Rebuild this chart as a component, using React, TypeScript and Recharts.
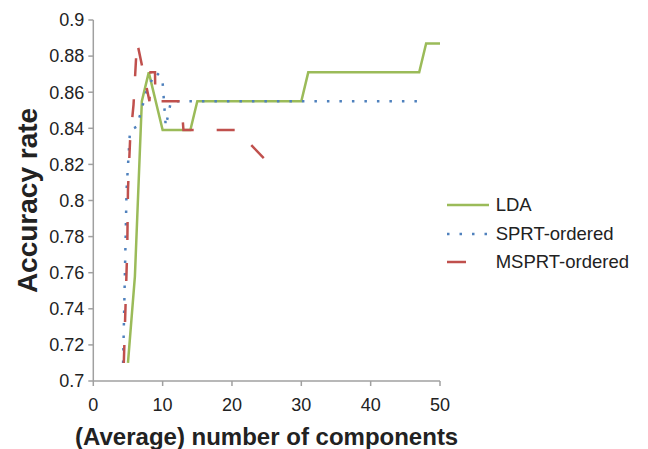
import { LineChart, Line, XAxis, YAxis } from "recharts";

// LDA
const ldaX = [5, 6, 7, 8, 10, 14, 15, 30, 31, 47, 48, 50];
const ldaY = [0.71, 0.758, 0.855, 0.871, 0.839, 0.839, 0.855, 0.855, 0.871, 0.871, 0.887, 0.887];

// SPRT-ordered
const sprtX = [4.3, 4.8, 5.3, 6.3, 7.7, 9.0, 9.95, 10.45, 11.2, 47];
const sprtY = [0.71, 0.806, 0.839, 0.841, 0.861, 0.871, 0.868, 0.841, 0.855, 0.855];

// MSPRT-ordered
const msprtX = [4.4, 4.9, 5.0, 5.3, 5.8, 6.3, 8.1, 8.25, 8.9, 8.95, 12.7, 13.0, 20.7, 24.7];
const msprtY = [0.71, 0.774, 0.806, 0.833, 0.853, 0.888, 0.855, 0.871, 0.871, 0.855, 0.855, 0.839, 0.839, 0.823];

const xTicks = [0, 10, 20, 30, 40, 50];
const yTicks = [0.7, 0.72, 0.74, 0.76, 0.78, 0.8, 0.82, 0.84, 0.86, 0.88, 0.9];

const toPoints = (xs: number[], ys: number[]) => xs.map((x, i) => ({ x, y: ys[i] }));

const lda = toPoints(ldaX, ldaY);
const sprt = toPoints(sprtX, sprtY);
const msprt = toPoints(msprtX, msprtY);

const legendItems = [
    { name: "LDA", color: "#9bbb59", dash: undefined, len: 42 },
    { name: "SPRT-ordered", color: "#4f81bd", dash: "2.5 10", len: 42 },
    { name: "MSPRT-ordered", color: "#c0504d", dash: undefined, len: 19 },
];

const axisColor = "#a0a0a0";
const textColor = "#222";

function LegendBox() {
    return <div style={{ position: "absolute", left: 438.7, top: 182.75, fontSize: 18.5, color: textColor }}>
        {legendItems.map((it) => (
            <div key={it.name} style={{ display: "flex", alignItems: "center", height: 28.5 }}>
                <svg width={42} height={6} style={{ marginRight: 7 }}>
                    <line x1={0} y1={3} x2={it.len} y2={3} stroke={it.color} strokeWidth={2.5} strokeDasharray={it.dash} />
                </svg>
                <span>{it.name}</span>
            </div>
        ))}
    </div>
}

export default function App() {
    return <div style={{ position: "relative", width: 640, height: 441, fontFamily: "'Liberation Sans', Arial, sans-serif" }}>
        <LineChart width={640} height={441} margin={{ top: 12, right: 208, bottom: 28, left: 0 }}>
            <XAxis dataKey="x" type="number" domain={[0, 50]} ticks={xTicks} allowDuplicatedCategory={false}
                stroke={axisColor} strokeWidth={1.5} tickSize={5} tickMargin={12} height={40}
                tick={{ fill: textColor, fontSize: 18 }}
                label={{ value: "(Average) number of components", position: "bottom", offset: 7, fill: textColor, fontSize: 24, fontWeight: "bold" }} />
            <YAxis type="number" domain={[0.7, 0.9]} ticks={yTicks} width={85.3}
                stroke={axisColor} strokeWidth={1.5} tickSize={5} tickMargin={4}
                tick={{ fill: textColor, fontSize: 18 }}
                tickFormatter={(v: number) => String(+v.toFixed(2))}
                label={{ value: "Accuracy rate", angle: -90, position: "insideLeft", offset: 19, fill: textColor, fontSize: 28, fontWeight: "bold", style: { textAnchor: "middle" } }} />
            <Line data={lda} dataKey="y" type="linear" stroke="#9bbb59" strokeWidth={2.5} dot={false} isAnimationActive={false} />
            <Line data={sprt} dataKey="y" type="linear" stroke="#4f81bd" strokeWidth={2.5} strokeDasharray="2.5 10" dot={false} isAnimationActive={false} />
            <Line data={msprt} dataKey="y" type="linear" stroke="#c0504d" strokeWidth={2.5} strokeDasharray="18 23" dot={false} isAnimationActive={false} />
        </LineChart>
        <LegendBox />
    </div>
}
